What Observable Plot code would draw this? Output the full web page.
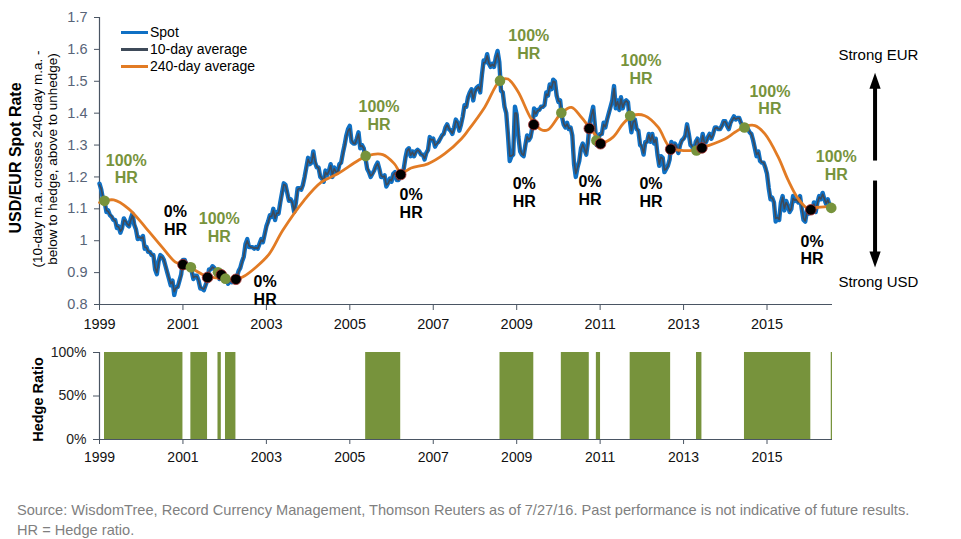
<!DOCTYPE html>
<html>
<head>
<meta charset="utf-8">
<script src="https://cdn.jsdelivr.net/npm/d3@7"></script>
<script src="https://cdn.jsdelivr.net/npm/@observablehq/plot@0.6"></script>
<style>
  body { margin: 0; background: #fff; font-family: Arial, "Liberation Sans", sans-serif; }
  #chart { position: relative; width: 961px; height: 539px; overflow: hidden; background: #fff; }
  #top, #bottom { position: absolute; left: 0; }
  #top { top: 0; }
  #bottom { top: 330px; }
  #legend { position: absolute; left: 121px; top: 23.6px; font-size: 14px; color: #000; }
  #legend .row { height: 17.3px; line-height: 17.3px; white-space: nowrap; display: flex; align-items: center; }
  #legend .sw { width: 27px; height: 3px; margin-right: 2px; }
  #source { position: absolute; left: 17px; top: 501px; font-size: 14.6px; line-height: 19.5px; color: #7f7f7f; white-space: nowrap; }
</style>
</head>
<body>
<div id="chart">
  <div id="top"></div>
  <div id="bottom"></div>
  <div id="legend"></div>
  <div id="source">Source: WisdomTree, Record Currency Management, Thomson Reuters as of 7/27/16. Past performance is not indicative of future results.<br>HR = Hedge ratio.</div>
</div>
<script>
// ---- Spot USD/EUR, sampled on the 1st and 16th of every month ----
const years = [1999, 2000, 2001, 2002, 2003, 2004, 2005, 2006, 2007, 2008, 2009, 2010, 2011, 2012, 2013, 2014, 2015, 2016];

const spot = [
  [1.179,1.160,1.13,1.12,1.09,1.095,1.08,1.075,1.065,1.065,1.04,1.045,1.025,1.04,1.07,1.06,1.05,1.045,1.07,1.085,1.05,1.035,1.005,1.01],
  [1.005,1.015,0.975,0.98,0.965,0.965,0.955,0.955,0.91,0.895,0.935,0.955,0.95,0.94,0.92,0.90,0.88,0.86,0.875,0.83,0.855,0.855,0.875,0.895],
  [0.94,0.94,0.925,0.915,0.925,0.905,0.88,0.89,0.89,0.875,0.85,0.85,0.845,0.86,0.875,0.91,0.91,0.92,0.915,0.90,0.905,0.88,0.89,0.895],
  [0.89,0.88,0.865,0.875,0.87,0.88,0.875,0.885,0.905,0.915,0.935,0.95,0.99,1.005,0.98,0.98,0.98,0.975,0.98,0.975,0.99,1.005,0.995,1.02],
  [1.045,1.06,1.08,1.075,1.10,1.065,1.09,1.085,1.12,1.15,1.18,1.175,1.15,1.125,1.13,1.12,1.09,1.12,1.165,1.165,1.16,1.175,1.20,1.23],
  [1.26,1.24,1.245,1.28,1.245,1.23,1.23,1.20,1.195,1.185,1.22,1.205,1.22,1.24,1.20,1.23,1.215,1.215,1.24,1.245,1.275,1.30,1.33,1.35],
  [1.36,1.31,1.305,1.305,1.32,1.34,1.29,1.30,1.29,1.26,1.225,1.215,1.20,1.21,1.22,1.235,1.245,1.225,1.20,1.20,1.205,1.17,1.18,1.195],
  [1.185,1.21,1.215,1.19,1.19,1.215,1.21,1.225,1.26,1.285,1.29,1.265,1.28,1.265,1.28,1.285,1.28,1.27,1.27,1.255,1.275,1.285,1.325,1.315],
  [1.32,1.295,1.305,1.31,1.32,1.33,1.335,1.355,1.365,1.35,1.345,1.335,1.355,1.38,1.37,1.345,1.365,1.39,1.425,1.42,1.45,1.465,1.475,1.44],
  [1.47,1.48,1.485,1.465,1.52,1.565,1.56,1.585,1.555,1.545,1.555,1.545,1.575,1.595,1.56,1.47,1.465,1.42,1.40,1.33,1.25,1.265,1.27,1.42],
  [1.395,1.325,1.28,1.27,1.265,1.30,1.33,1.315,1.325,1.355,1.415,1.395,1.41,1.41,1.42,1.42,1.425,1.465,1.455,1.49,1.475,1.505,1.50,1.455],
  [1.435,1.44,1.39,1.365,1.355,1.37,1.35,1.355,1.33,1.24,1.20,1.23,1.25,1.29,1.305,1.285,1.27,1.31,1.37,1.395,1.42,1.36,1.30,1.32],
  [1.335,1.335,1.37,1.355,1.38,1.40,1.42,1.44,1.485,1.415,1.44,1.41,1.45,1.415,1.435,1.44,1.435,1.38,1.34,1.375,1.38,1.35,1.345,1.30],
  [1.295,1.27,1.31,1.31,1.335,1.31,1.335,1.305,1.32,1.27,1.235,1.265,1.26,1.215,1.225,1.235,1.255,1.31,1.29,1.305,1.295,1.275,1.30,1.315],
  [1.32,1.33,1.365,1.335,1.30,1.295,1.28,1.31,1.32,1.29,1.30,1.335,1.305,1.31,1.325,1.335,1.32,1.335,1.355,1.355,1.35,1.35,1.36,1.375],
  [1.375,1.36,1.35,1.37,1.38,1.39,1.38,1.385,1.385,1.37,1.36,1.355,1.36,1.35,1.34,1.335,1.315,1.29,1.265,1.28,1.25,1.245,1.245,1.23],
  [1.21,1.165,1.13,1.135,1.12,1.06,1.075,1.065,1.12,1.14,1.095,1.125,1.11,1.09,1.10,1.14,1.125,1.13,1.12,1.14,1.10,1.065,1.06,1.095],
  [1.085,1.09,1.09,1.12,1.09,1.12,1.14,1.13,1.15,1.13,1.115,1.13,1.11,1.105]
];

// ---- 10-day moving average, same sampling dates ----
const tenDay = [
  [1.175,1.163,1.135,1.12,1.095,1.092,1.082,1.077,1.067,1.063,1.045,1.043,1.03,1.037,1.065,1.062,1.052,1.047,1.065,1.08,1.055,1.037,1.01,1.01],
  [1.008,1.012,0.98,0.978,0.967,0.964,0.957,0.953,0.915,0.9,0.93,0.95,0.948,0.94,0.922,0.902,0.882,0.865,0.872,0.84,0.852,0.855,0.872,0.89],
  [0.935,0.938,0.927,0.917,0.922,0.907,0.884,0.888,0.888,0.876,0.854,0.851,0.848,0.858,0.874,0.905,0.91,0.917,0.914,0.902,0.902,0.883,0.888,0.893],
  [0.891,0.882,0.868,0.873,0.871,0.878,0.877,0.884,0.902,0.914,0.932,0.952,0.985,1.0,0.984,0.98,0.979,0.976,0.978,0.976,0.988,1.002,0.997,1.016],
  [1.04,1.057,1.077,1.076,1.095,1.07,1.087,1.086,1.115,1.147,1.176,1.174,1.153,1.128,1.128,1.118,1.095,1.117,1.16,1.164,1.161,1.172,1.197,1.226],
  [1.255,1.243,1.245,1.275,1.25,1.232,1.228,1.203,1.196,1.188,1.215,1.207,1.218,1.236,1.205,1.226,1.216,1.215,1.236,1.244,1.27,1.297,1.326,1.345],
  [1.352,1.316,1.306,1.304,1.318,1.335,1.296,1.298,1.29,1.264,1.23,1.216,1.203,1.208,1.219,1.232,1.242,1.227,1.204,1.2,1.203,1.175,1.179,1.192],
  [1.188,1.206,1.213,1.194,1.19,1.211,1.211,1.222,1.255,1.282,1.288,1.268,1.278,1.267,1.278,1.284,1.28,1.271,1.269,1.258,1.272,1.284,1.32,1.316],
  [1.318,1.299,1.304,1.309,1.318,1.328,1.335,1.352,1.363,1.352,1.345,1.337,1.352,1.376,1.37,1.35,1.362,1.386,1.42,1.421,1.446,1.463,1.472,1.445],
  [1.466,1.477,1.483,1.468,1.514,1.558,1.56,1.58,1.558,1.547,1.553,1.547,1.57,1.588,1.562,1.48,1.466,1.426,1.402,1.34,1.265,1.266,1.27,1.40],
  [1.40,1.335,1.287,1.272,1.268,1.295,1.326,1.317,1.324,1.35,1.408,1.398,1.408,1.41,1.418,1.42,1.425,1.46,1.456,1.485,1.478,1.5,1.498,1.46],
  [1.438,1.437,1.396,1.368,1.357,1.366,1.352,1.354,1.333,1.25,1.21,1.228,1.248,1.285,1.302,1.288,1.272,1.305,1.365,1.393,1.412,1.366,1.306,1.318],
  [1.332,1.334,1.365,1.357,1.377,1.397,1.417,1.437,1.478,1.422,1.436,1.413,1.445,1.418,1.433,1.439,1.433,1.386,1.345,1.372,1.378,1.352,1.344,1.305],
  [1.296,1.275,1.305,1.31,1.332,1.313,1.332,1.308,1.318,1.276,1.24,1.262,1.258,1.222,1.225,1.234,1.252,1.304,1.292,1.303,1.295,1.278,1.298,1.313],
  [1.318,1.328,1.36,1.338,1.304,1.296,1.283,1.306,1.318,1.293,1.299,1.33,1.308,1.309,1.323,1.333,1.322,1.333,1.352,1.355,1.351,1.35,1.358,1.372],
  [1.374,1.362,1.352,1.367,1.378,1.387,1.381,1.384,1.385,1.372,1.362,1.356,1.359,1.351,1.342,1.335,1.318,1.294,1.27,1.277,1.255,1.246,1.245,1.233],
  [1.215,1.175,1.135,1.134,1.122,1.07,1.073,1.067,1.113,1.136,1.1,1.12,1.11,1.093,1.1,1.133,1.127,1.129,1.121,1.136,1.105,1.07,1.062,1.09],
  [1.087,1.089,1.091,1.115,1.094,1.117,1.137,1.131,1.146,1.132,1.117,1.128,1.113,1.106]
];

// ---- 240-day moving average (decimal years) ----
const maDates = [1999.00,1999.34,1999.70,2000.10,2000.50,2000.82,2001.00,2001.30,2001.55,2001.95,2002.27,2002.43,2002.75,2003.07,2003.39,2003.90,2004.31,2004.71,2005.19,2005.43,2005.79,2006.07,2006.23,2006.47,2006.87,2007.27,2007.67,2007.83,2008.23,2008.60,2008.79,2009.03,2009.35,2009.59,2009.75,2010.07,2010.31,2010.55,2010.79,2011.07,2011.31,2011.55,2011.79,2012.07,2012.39,2012.67,2012.95,2013.27,2013.59,2013.99,2014.23,2014.47,2014.71,2014.95,2015.27,2015.51,2015.75,2015.99,2016.23,2016.57];
const maValues = [1.120,1.128,1.100,1.042,0.980,0.933,0.925,0.907,0.889,0.882,0.879,0.886,0.917,0.959,1.032,1.126,1.183,1.210,1.251,1.267,1.270,1.241,1.212,1.228,1.241,1.272,1.319,1.345,1.418,1.502,1.507,1.468,1.382,1.348,1.348,1.400,1.418,1.387,1.348,1.309,1.325,1.367,1.393,1.392,1.356,1.293,1.283,1.285,1.298,1.319,1.340,1.358,1.361,1.335,1.262,1.189,1.131,1.100,1.105,1.108];

// ---- Crossing signals: switch to 100% hedge / switch to 0% hedge ----
const hedgeOnDates  = [1999.12, 2001.19, 2001.84, 2002.02, 2005.38, 2008.60, 2010.07, 2010.91, 2011.72, 2013.31, 2014.46, 2016.54];
const hedgeOnLevels = [1.125, 0.917, 0.901, 0.881, 1.266, 1.502, 1.401, 1.314, 1.392, 1.283, 1.355, 1.103];
const hedgeOffDates  = [2001.00, 2001.59, 2001.92, 2002.27, 2006.22, 2009.41, 2010.74, 2011.01, 2012.69, 2013.44, 2016.05];
const hedgeOffLevels = [0.925, 0.885, 0.893, 0.879, 1.2075, 1.364, 1.352, 1.304, 1.287, 1.291, 1.097];

// ---- Callouts on the spot chart ----
const noteYears  = [1999.64, 2000.82, 2001.87, 2002.97, 2005.70, 2006.47, 2009.29, 2009.18, 2010.76, 2011.98, 2012.22, 2015.07, 2016.66, 2016.08];
const noteLevels = [1.225, 1.064, 1.041, 0.845, 1.394, 1.117, 1.615, 1.152, 1.158, 1.537, 1.151, 1.442, 1.236, 0.971];
const noteLabels = ["100%\nHR", "0%\nHR", "100%\nHR", "0%\nHR", "100%\nHR", "0%\nHR", "100%\nHR", "0%\nHR", "0%\nHR", "100%\nHR", "0%\nHR", "100%\nHR", "100%\nHR", "0%\nHR"];

// ---- Axes ----
const xDomain = [1999, 2016.57];
const xTicks = [1999, 2001, 2003, 2005, 2007, 2009, 2011, 2013, 2015];
const yTicks = [0.8, 0.9, 1, 1.1, 1.2, 1.3, 1.4, 1.5, 1.6, 1.7];
const hedgeTicks = [0, 0.5, 1];
const hedgeTickLabels = ["0%", "50%", "100%"];

// ---- Direction cues on the right ----
const cueX = 2017.59;
const cueLabelX = 2017.67;
const cueLabels = ["Strong EUR", "Strong USD"];
const cueLabelLevels = [1.581, 0.869];

const GREEN = "#77933C", BLUE = "#0F70C4", DARK = "#3E4A59", ORANGE = "#E27B24";
const AXIS = "#4A5563";
const FONT = "Arial, 'Liberation Sans', sans-serif";

const spotRows = years.flatMap((yr, k) => spot[k].map((v, i) => ({t: yr + i / 24, v})));
const tenRows = years.flatMap((yr, k) => tenDay[k].map((v, i) => ({t: yr + i / 24, v})));
const maRows = maDates.map((t, i) => ({t, v: maValues[i]}));
const events = [
  ...hedgeOnDates.map((t, i) => ({t, v: hedgeOnLevels[i], kind: "on"})),
  ...hedgeOffDates.map((t, i) => ({t, v: hedgeOffLevels[i], kind: "off"}))
].sort((a, b) => a.t - b.t);
const notes = noteYears.map((t, i) => ({t, v: noteLevels[i], label: noteLabels[i], on: noteLabels[i].startsWith("100")}));
const spans = hedgeOnDates.map((t, i) => ({x1: t, x2: hedgeOffDates[i] ?? xDomain[1], ratio: 1}));

// filled arrow heads for the direction cues
const headUp = {draw(ctx) { ctx.moveTo(0, -8); ctx.lineTo(5.6, 8); ctx.lineTo(-5.6, 8); ctx.closePath(); }};
const headDown = {draw(ctx) { ctx.moveTo(0, 8); ctx.lineTo(5.6, -8); ctx.lineTo(-5.6, -8); ctx.closePath(); }};

const topChart = Plot.plot({
  width: 961, height: 340,
  marginLeft: 99, marginRight: 129, marginTop: 17, marginBottom: 36,
  x: {domain: xDomain},
  y: {domain: [0.8, 1.7]},
  color: {type: "identity"},
  style: {fontFamily: FONT, fontSize: "14px", background: "transparent", overflow: "visible"},
  marks: [
    Plot.axisY({ticks: yTicks, tickFormat: d => String(d), tickSize: 5, tickPadding: 7, fill: "#586478", stroke: AXIS, fontSize: 14.5, label: null}),
    Plot.axisX({ticks: xTicks, tickFormat: d => String(d), tickSize: 6, tickPadding: 8, fill: "#111", stroke: AXIS, fontSize: 14.5, label: null}),
    Plot.ruleX([xDomain[0]], {stroke: AXIS, strokeWidth: 1.2}),
    Plot.ruleY([0.8], {stroke: AXIS, strokeWidth: 1.2}),
    Plot.line(spotRows, {x: "t", y: "v", stroke: BLUE, strokeWidth: 4.4, strokeLinejoin: "round"}),
    Plot.line(tenRows, {x: "t", y: "v", stroke: DARK, strokeWidth: 1.6, strokeLinejoin: "round"}),
    Plot.line(maRows, {x: "t", y: "v", stroke: ORANGE, strokeWidth: 2.8, curve: "catmull-rom"}),
    Plot.dot(events, {x: "t", y: "v", r: 5.3,
      fill: d => d.kind === "on" ? GREEN : "#000",
      stroke: d => d.kind === "on" ? "none" : "#A83232", strokeWidth: 0.8}),
    Plot.text(notes, {x: "t", y: "v", text: "label", fill: d => d.on ? GREEN : "#000",
      fontWeight: "bold", fontSize: 16, lineHeight: 1.1}),
    // direction cues
    Plot.link([0], {x1: cueX, x2: cueX, y1: 1.2514, y2: 1.483, stroke: "#000", strokeWidth: 4}),
    Plot.link([0], {x1: cueX, x2: cueX, y1: 1.1887, y2: 0.96, stroke: "#000", strokeWidth: 4}),
    Plot.dot([0], {x: cueX, y: 1.502, symbol: headUp, fill: "#000", stroke: "none"}),
    Plot.dot([0], {x: cueX, y: 0.941, symbol: headDown, fill: "#000", stroke: "none"}),
    Plot.text(cueLabels, {x: cueLabelX, y: (d, i) => cueLabelLevels[i], fill: "#000", fontSize: 15}),
    // axis titles
    Plot.text(["USD/EUR Spot Rate"], {frameAnchor: "left", textAnchor: "middle", rotate: -90, dx: -84, dy: -3,
      fontWeight: "bold", fontSize: 16, fill: "#000"}),
    Plot.text(["(10-day m.a. crosses 240-day m.a. -\nbelow to hedge, above to unhedge)"],
      {frameAnchor: "left", textAnchor: "middle", rotate: -90, dx: -55, dy: -2, fontSize: 13.5, lineHeight: 1.11, fill: "#000"})
  ]
});
document.getElementById("top").append(topChart);

const bottomChart = Plot.plot({
  width: 961, height: 150,
  marginLeft: 99, marginRight: 129, marginTop: 22, marginBottom: 41,
  x: {domain: xDomain},
  y: {domain: [0, 1]},
  style: {fontFamily: FONT, fontSize: "14px", background: "transparent", overflow: "visible"},
  marks: [
    Plot.rect(spans, {x1: "x1", x2: "x2", y1: 0, y2: "ratio", fill: GREEN}),
    Plot.axisY({ticks: hedgeTicks, tickFormat: (d, i) => hedgeTickLabels[i], tickSize: 6, tickPadding: 7, fill: "#222", stroke: AXIS, fontSize: 14, label: null}),
    Plot.axisX({ticks: xTicks, tickFormat: d => String(d), tickSize: 5, tickPadding: 8, fill: "#111", stroke: AXIS, fontSize: 14, label: null}),
    Plot.ruleX([xDomain[0]], {stroke: AXIS, strokeWidth: 1.2}),
    Plot.ruleY([0], {stroke: AXIS, strokeWidth: 1.2}),
    Plot.text(["Hedge Ratio"], {frameAnchor: "left", textAnchor: "middle", rotate: -90, dx: -61.5, dy: 3.5,
      fontWeight: "bold", fontSize: 14.5, fill: "#000"})
  ]
});
document.getElementById("bottom").append(bottomChart);

// legend
const legendItems = [
  {label: "Spot", color: BLUE},
  {label: "10-day average", color: DARK},
  {label: "240-day average", color: ORANGE}
];
const legend = document.getElementById("legend");
for (const item of legendItems) {
  const row = document.createElement("div");
  row.className = "row";
  const sw = document.createElement("span");
  sw.className = "sw";
  sw.style.background = item.color;
  row.append(sw, document.createTextNode(item.label));
  legend.append(row);
}
</script>
</body>
</html>
